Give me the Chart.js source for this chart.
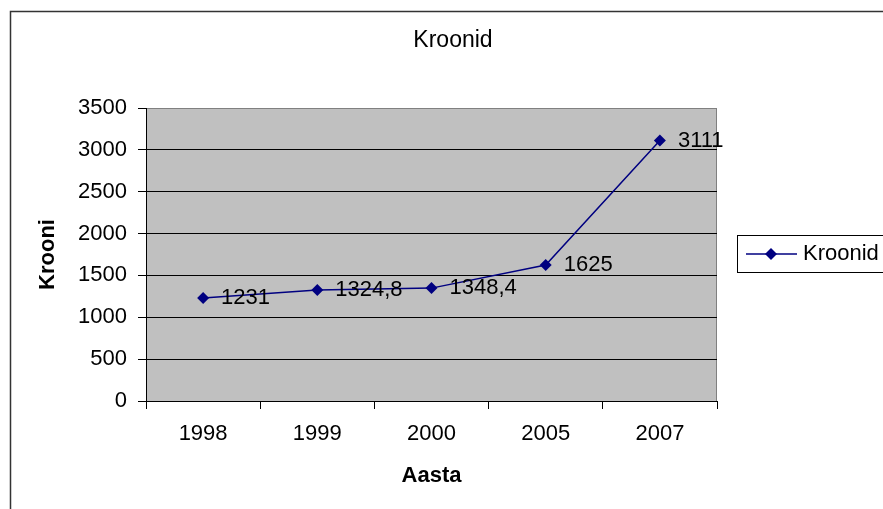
<!DOCTYPE html>
<html lang="et">
<head>
    <meta charset="UTF-8">
    <title>Kroonid</title>
    <script src="https://cdn.jsdelivr.net/npm/chart.js"></script>
    <style>
        body {
            margin: 0;
            background-color: white;
        }
        canvas {
            display: block;
        }
    </style>
</head>
<body>
    <canvas id="kroonidChart" width="883" height="509"></canvas>

    <script>
        // andmed
        const aastad = ['1998', '1999', '2000', '2005', '2007'];
        const kroonid = [1231, 1324.8, 1348.4, 1625, 3111];
        const seeriaNimi = 'Kroonid';
        const pealkiri = 'Kroonid';
        const yPealkiri = 'Krooni';
        const xPealkiri = 'Aasta';

        const FONT = '"Liberation Sans", Arial, sans-serif';
        const NAVY = '#000080';

        // hall joonisala, pealkiri, raam ja legend
        const excelStyle = {
            id: 'excelStyle',
            beforeDraw(chart) {
                const {ctx, chartArea: a} = chart;
                ctx.save();
                ctx.fillStyle = '#c0c0c0';
                ctx.fillRect(a.left, a.top, a.right - a.left, a.bottom - a.top);
                ctx.strokeStyle = '#808080';
                ctx.lineWidth = 1;
                ctx.strokeRect(a.left + 0.5, a.top + 0.5, a.right - a.left - 1, a.bottom - a.top);
                ctx.restore();
            },
            afterDraw(chart) {
                const ctx = chart.ctx;
                ctx.save();
                // välimine raam
                ctx.strokeStyle = '#333';
                ctx.lineWidth = 1.5;
                ctx.strokeRect(10.5, 11.5, 900, 520);

                // pealkiri
                ctx.fillStyle = '#000';
                ctx.font = '23px ' + FONT;
                ctx.textAlign = 'center';
                ctx.textBaseline = 'middle';
                ctx.fillText(pealkiri, 453, 41);

                // legend
                ctx.strokeStyle = '#000';
                ctx.lineWidth = 1;
                ctx.strokeRect(737.5, 235.5, 200, 37);
                ctx.strokeStyle = NAVY;
                ctx.lineWidth = 1.5;
                ctx.beginPath();
                ctx.moveTo(746, 254);
                ctx.lineTo(797, 254);
                ctx.stroke();
                ctx.fillStyle = NAVY;
                ctx.beginPath();
                ctx.moveTo(771, 248);
                ctx.lineTo(777, 254);
                ctx.lineTo(771, 260);
                ctx.lineTo(765, 254);
                ctx.closePath();
                ctx.fill();
                ctx.fillStyle = '#000';
                ctx.font = '22px ' + FONT;
                ctx.textAlign = 'left';
                ctx.fillText(seeriaNimi, 803, 254);
                ctx.restore();
            },
            afterDatasetsDraw(chart) {
                // andmesildid punktide kõrval
                const ctx = chart.ctx;
                const meta = chart.getDatasetMeta(0);
                ctx.save();
                ctx.fillStyle = '#000';
                ctx.font = '22px ' + FONT;
                ctx.textAlign = 'left';
                ctx.textBaseline = 'middle';
                meta.data.forEach((pt, i) => {
                    const txt = String(kroonid[i]).replace('.', ',');
                    ctx.fillText(txt, pt.x + 18, pt.y);
                });
                ctx.restore();
            }
        };

        new Chart(document.getElementById('kroonidChart').getContext('2d'), {
            type: 'line',
            data: {
                labels: aastad,
                datasets: [{
                    label: seeriaNimi,
                    data: kroonid,
                    borderColor: NAVY,
                    backgroundColor: NAVY,
                    borderWidth: 1.5,
                    tension: 0,
                    pointStyle: 'rectRot',
                    pointRadius: 6,
                    pointHoverRadius: 6,
                    pointBackgroundColor: NAVY,
                    pointBorderColor: NAVY,
                    pointBorderWidth: 0
                }]
            },
            options: {
                responsive: false,
                devicePixelRatio: 1,
                animation: false,
                layout: {
                    padding: {left: 0, top: 108, right: 166, bottom: 0}
                },
                plugins: {
                    legend: {display: false},
                    title: {display: false},
                    tooltip: {enabled: false}
                },
                scales: {
                    x: {
                        type: 'category',
                        offset: true,
                        afterFit(scale) { scale.height = 108; },
                        grid: {
                            offset: true,
                            drawOnChartArea: false,
                            tickLength: 8,
                            tickColor: '#000'
                        },
                        border: {color: '#000', width: 1},
                        ticks: {
                            color: '#000',
                            padding: 12,
                            maxRotation: 0,
                            font: {family: FONT, size: 22}
                        },
                        title: {
                            display: true,
                            text: xPealkiri,
                            color: '#000',
                            padding: {top: 0, bottom: 20},
                            font: {family: FONT, size: 22, weight: 'bold'}
                        }
                    },
                    y: {
                        min: 0,
                        max: 3500,
                        afterFit(scale) { scale.width = 146; },
                        grid: {
                            color: ctx => ctx.tick && ctx.tick.value === 3500 ? '#808080' : '#000',
                            tickLength: 8,
                            tickColor: '#000'
                        },
                        border: {color: '#000', width: 1},
                        ticks: {
                            stepSize: 500,
                            color: '#000',
                            padding: 11,
                            font: {family: FONT, size: 22},
                            callback: v => String(v)
                        },
                        title: {
                            display: true,
                            text: yPealkiri,
                            color: '#000',
                            padding: {top: 35, bottom: 0},
                            font: {family: FONT, size: 22, weight: 'bold'}
                        }
                    }
                }
            },
            plugins: [excelStyle]
        });
    </script>
</body>
</html>
